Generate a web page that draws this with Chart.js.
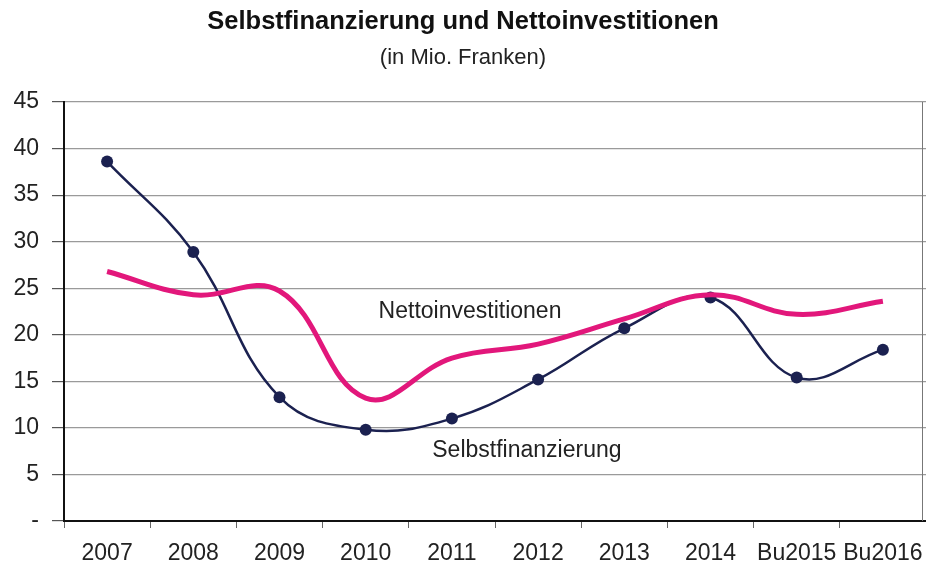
<!DOCTYPE html>
<html>
<head>
<meta charset="utf-8">
<script src="https://cdn.jsdelivr.net/npm/chart.js@4.4.1/dist/chart.umd.min.js"></script>
<style>
  html, body { margin: 0; padding: 0; background: #fff; overflow: hidden; }
  #wrap { width: 926px; height: 562px; }
  canvas { display: block; }
</style>
</head>
<body>
<div id="wrap"><canvas id="chart" width="926" height="562"></canvas></div>
<script>
// values (Mio. Franken)
const years = ['2007', '2008', '2009', '2010', '2011', '2012', '2013', '2014', 'Bu2015', 'Bu2016'];
const selbstfinanzierung = [38.6, 28.9, 13.3, 9.8, 11.0, 15.2, 20.7, 24.0, 15.4, 18.4];
const nettoinvestitionen = [26.8, 24.3, 24.7, 13.2, 17.5, 19.0, 21.7, 24.3, 22.2, 23.6];
const yTicks = [0, 5, 10, 15, 20, 25, 30, 35, 40, 45];

// series names written next to the lines, placed in data units
const lineLabels = [
    { text: 'Nettoinvestitionen', x: 4.21, y: 22.5 },
    { text: 'Selbstfinanzierung', x: 4.87, y: 7.6 }
];

const fontFamily = '"Liberation Sans", Arial, sans-serif';

const frameAndLabels = {
    id: 'frameAndLabels',
    beforeDatasetsDraw(chart) {
        const { ctx, chartArea: a } = chart;
        ctx.save();
        ctx.strokeStyle = '#777';
        ctx.lineWidth = 1;
        ctx.beginPath();
        ctx.moveTo(a.right - 3.5, a.top);
        ctx.lineTo(a.right - 3.5, a.bottom);
        ctx.stroke();
        ctx.restore();
    },
    afterDatasetsDraw(chart) {
        const { ctx, scales } = chart;
        ctx.save();
        ctx.font = '23px ' + fontFamily;
        ctx.fillStyle = '#222';
        ctx.textAlign = 'center';
        ctx.textBaseline = 'middle';
        lineLabels.forEach(l => {
            ctx.fillText(l.text, scales.x.getPixelForValue(l.x), scales.y.getPixelForValue(l.y));
        });
        ctx.restore();
    }
};

document.addEventListener("DOMContentLoaded", function() {
    const ctx = document.getElementById('chart').getContext('2d');
    new Chart(ctx, {
        type: 'line',
        data: {
            labels: years,
            datasets: [{
                label: 'Nettoinvestitionen',
                data: nettoinvestitionen,
                borderColor: '#e2177b',
                borderWidth: 5,
                pointRadius: 0,
                tension: 0.4,
                fill: false
            }, {
                label: 'Selbstfinanzierung',
                data: selbstfinanzierung,
                borderColor: '#1b2150',
                backgroundColor: '#1b2150',
                borderWidth: 2.5,
                pointRadius: 6,
                pointBorderWidth: 0,
                tension: 0.4,
                fill: false
            }]
        },
        options: {
            responsive: false,
            animation: false,
            layout: { autoPadding: false, padding: 0 },
            plugins: {
                legend: { display: false },
                tooltip: { enabled: false },
                title: {
                    display: true,
                    text: 'Selbstfinanzierung und Nettoinvestitionen',
                    color: '#111',
                    font: { family: fontFamily, size: 25.5, weight: 'bold' },
                    padding: { top: 7, bottom: 7 }
                },
                subtitle: {
                    display: true,
                    text: '(in Mio. Franken)',
                    color: '#222',
                    font: { family: fontFamily, size: 22 },
                    padding: { top: 0, bottom: 31 }
                }
            },
            scales: {
                x: {
                    offset: true,
                    border: { color: '#111', width: 2 },
                    grid: { offset: true, drawOnChartArea: false, color: '#666', tickLength: 7 },
                    ticks: {
                        color: '#222',
                        padding: 12,
                        maxRotation: 0,
                        autoSkip: false,
                        font: { family: fontFamily, size: 23 }
                    },
                    afterFit(scale) {
                        scale.height = 41;
                        scale.paddingLeft = 0;
                        scale.paddingRight = 0;
                    }
                },
                y: {
                    min: 0,
                    max: 45,
                    border: { color: '#111', width: 2 },
                    grid: { color: '#9a9a9a', lineWidth: 1.2, tickColor: '#555', tickLength: 12 },
                    afterBuildTicks(scale) { scale.ticks = yTicks.map(v => ({ value: v })); },
                    ticks: {
                        color: '#222',
                        padding: 13,
                        font: { family: fontFamily, size: 23 },
                        callback: v => v === 0 ? '-' : v
                    },
                    afterFit(scale) { scale.width = 64; }
                }
            }
        },
        plugins: [frameAndLabels]
    });
});
</script>
</body>
</html>
